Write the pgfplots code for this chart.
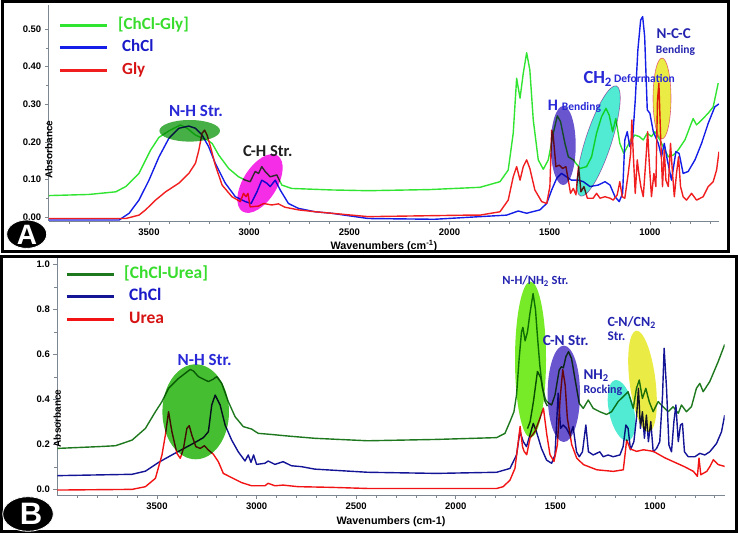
\documentclass[border=0pt]{standalone}
\usepackage{pgfplots}
\pgfplotsset{compat=1.18}
\usepackage{fontspec}
\setmainfont{Liberation Sans}
\newfontfamily\calib{Carlito}
\definecolor{axgray}{RGB}{125,135,145}
\definecolor{gA}{RGB}{50,228,50}
\definecolor{bA}{RGB}{20,30,230}
\definecolor{rA}{RGB}{240,30,30}
\definecolor{gB}{RGB}{30,120,30}
\definecolor{bB}{RGB}{20,20,150}
\definecolor{rB}{RGB}{242,20,20}
\definecolor{legG}{RGB}{55,220,45}
\definecolor{legB}{RGB}{25,25,200}
\definecolor{legR}{RGB}{215,20,20}
\definecolor{annA}{RGB}{40,40,215}
\definecolor{annB}{RGB}{35,35,175}
\definecolor{elGreenA}{RGB}{70,175,70}
\definecolor{elMag}{RGB}{245,45,230}
\definecolor{elPurp}{RGB}{105,85,205}
\definecolor{elCyan}{RGB}{80,235,210}
\definecolor{elYel}{RGB}{235,235,70}
\definecolor{elPink}{RGB}{235,110,190}
\definecolor{elGreenB}{RGB}{70,190,50}
\definecolor{elLime}{RGB}{120,235,40}
\pgfplotsset{
 ftir/.style={
  scale only axis,
  x dir=reverse,
  axis x line*=bottom, axis y line*=left,
  axis line style={draw=axgray, line width=0.8pt, -},
  tick style={draw=axgray, line width=0.6pt},
  major tick length=4pt, minor tick length=3pt,
  tick align=outside,
  xtick={1000,1500,2000,2500,3000,3500},
  minor xtick={700,800,...,3900},
  tick label style={font=\bfseries\fontsize{9.5}{10}\selectfont},
  /pgf/number format/assume math mode=true,
  xticklabel style={/pgf/number format/.cd, set thousands separator={}},
  label style={font=\bfseries\fontsize{10.8}{11}\selectfont},
  legend image code/.code={\draw[line width=3pt] (0pt,0pt) -- (47pt,0pt);},
  legend cell align=left,
  every axis plot/.append style={line width=1.4pt, line join=round},
 }
}
\begin{document}
\begin{tikzpicture}[x=1pt,y=1pt]
\path[use as bounding box] (0,0) rectangle (738,533);
% ---------------- Panel A ----------------
\begin{axis}[ftir,
  at={(48.8pt,312pt)}, anchor=south west,
  width=670.2pt, height=216pt,
  xmin=655, xmax=4000, ymin=-0.0106, ymax=0.564,
  ytick={0,0.1,0.2,0.3,0.4,0.5}, minor y tick num=1,
  yticklabel style={/pgf/number format/.cd, fixed, fixed zerofill, precision=2},
  xlabel={Wavenumbers (cm\textsuperscript{-1})},
  xlabel style={at={(axis description cs:0.5,0)}, anchor=center, yshift=-25pt},
  ylabel={Absorbance},
  ylabel style={at={(axis description cs:0,0.51)}, anchor=center, xshift=-38.8pt, font=\bfseries\fontsize{10}{11}\selectfont},
  legend style={at={(0,1)}, anchor=north west, draw=none, fill=none,
    xshift=9.2pt, yshift=-12pt, inner sep=0pt, row sep=6.8pt,
    font=\calib\bfseries\fontsize{17}{17}\selectfont,
    nodes={inner sep=0pt, text height=12pt, text depth=4pt},
    /tikz/every odd column/.append style={column sep=10pt}},
]
\addplot[gA] table {
4000 0.057
3800 0.060
3666 0.067
3616 0.081
3550 0.116
3492 0.178
3450 0.212
3401 0.229
3343 0.245
3309 0.236
3268 0.218
3235 0.210
3210 0.205
3185 0.196
3152 0.165
3102 0.129
3053 0.107
3019 0.098
2995 0.094
2970 0.121
2953 0.116
2937 0.134
2920 0.121
2895 0.107
2862 0.112
2837 0.085
2788 0.076
2589 0.072
2406 0.070
2100 0.073
1848 0.079
1748 0.094
1707 0.125
1682 0.223
1665 0.369
1648 0.316
1632 0.382
1615 0.437
1599 0.391
1582 0.258
1557 0.152
1532 0.127
1507 0.152
1482 0.223
1462 0.269
1446 0.254
1424 0.196
1407 0.160
1382 0.152
1349 0.129
1316 0.134
1291 0.160
1266 0.223
1241 0.267
1219 0.289
1203 0.271
1186 0.227
1170 0.262
1150 0.196
1130 0.169
1113 0.187
1096 0.205
1075 0.218
1053 0.214
1033 0.205
1013 0.223
992 0.214
975 0.227
950 0.205
925 0.178
908 0.160
883 0.165
859 0.178
825 0.205
800 0.240
784 0.262
767 0.245
742 0.258
709 0.276
684 0.293
659 0.356
};
\addlegendentry{\textcolor{legG}{[ChCl-Gly]}}
\addplot[bA] table {
4000 -0.008
3649 -0.008
3599 0.010
3550 0.045
3500 0.098
3450 0.160
3401 0.209
3351 0.236
3301 0.242
3268 0.236
3235 0.218
3202 0.187
3169 0.143
3119 0.090
3069 0.054
3019 0.041
2990 0.036
2961 0.067
2937 0.098
2912 0.090
2895 0.081
2870 0.098
2845 0.072
2804 0.036
2754 0.023
2671 0.014
2589 0.010
2406 -0.004
2075 -0.006
1848 0.001
1715 0.005
1657 0.016
1615 0.010
1549 0.019
1515 0.036
1490 0.072
1465 0.103
1441 0.116
1416 0.107
1391 0.098
1357 0.098
1332 0.094
1299 0.081
1258 0.085
1224 0.094
1199 0.085
1174 0.054
1153 0.041
1136 0.063
1125 0.205
1113 0.227
1100 0.187
1086 0.209
1073 0.311
1060 0.444
1046 0.524
1036 0.533
1026 0.480
1013 0.285
1000 0.276
983 0.227
958 0.196
942 0.160
928 0.196
913 0.152
892 0.098
870 0.174
854 0.169
834 0.116
809 0.121
775 0.152
742 0.196
709 0.249
676 0.293
655 0.301
};
\addlegendentry{\hspace{4pt}\textcolor{legB}{ChCl}}
\addplot[rA] table {
4000 -0.004
3616 -0.004
3550 0.005
3517 0.019
3467 0.045
3417 0.067
3351 0.090
3301 0.116
3268 0.143
3251 0.178
3235 0.223
3222 0.231
3210 0.218
3193 0.187
3169 0.138
3135 0.085
3086 0.054
3044 0.041
3028 0.063
3016 0.054
3006 0.063
2995 0.027
2953 0.029
2928 0.036
2887 0.032
2854 0.035
2821 0.026
2754 0.019
2671 0.014
2589 0.010
2406 0.001
1910 0.005
1848 0.005
1748 0.014
1707 0.045
1682 0.107
1665 0.134
1648 0.098
1632 0.134
1615 0.152
1599 0.129
1574 0.072
1540 0.041
1515 0.036
1499 0.081
1490 0.231
1482 0.214
1469 0.134
1452 0.138
1436 0.129
1419 0.134
1407 0.098
1396 0.063
1382 0.076
1369 0.059
1356 0.134
1344 0.067
1329 0.081
1312 0.050
1283 0.050
1266 0.063
1249 0.050
1224 0.054
1199 0.050
1183 0.045
1163 0.059
1150 0.094
1138 0.054
1125 0.050
1108 0.116
1096 0.169
1090 0.258
1083 0.169
1073 0.063
1063 0.152
1055 0.116
1045 0.081
1033 0.054
1020 0.152
1011 0.227
1003 0.143
992 0.054
980 0.116
970 0.081
962 0.311
955 0.356
947 0.223
937 0.081
928 0.178
920 0.098
908 0.081
897 0.196
887 0.116
878 0.054
867 0.116
857 0.160
847 0.081
834 0.054
817 0.045
792 0.063
767 0.045
734 0.054
709 0.081
684 0.094
667 0.125
655 0.174
};
\addlegendentry{\hspace{4pt}\textcolor{legR}{Gly}}
\end{axis}
% ---------------- Panel B ----------------
\begin{axis}[ftir,
  at={(57.4pt,38pt)}, anchor=south west,
  width=667.3pt, height=237.4pt,
  xmin=650, xmax=4000, ymin=-0.025, ymax=1.03,
  ytick={0,0.2,0.4,0.6,0.8,1.0}, minor y tick num=1,
  yticklabel style={/pgf/number format/.cd, fixed, fixed zerofill, precision=1},
  xlabel={Wavenumbers (cm-1)},
  xlabel style={at={(axis description cs:0.5,0)}, anchor=center, yshift=-26.7pt},
  ylabel={Absorbance},
  ylabel style={at={(axis description cs:0,0.497)}, anchor=center, xshift=-41.4pt, font=\bfseries\fontsize{10}{11}\selectfont},
  legend style={at={(0,1)}, anchor=north west, draw=none, fill=none,
    xshift=7.6pt, yshift=-8.4pt, inner sep=0pt, row sep=6.5pt,
    font=\calib\bfseries\fontsize{17.5}{17.5}\selectfont,
    nodes={inner sep=0pt, text height=12pt, text depth=4pt},
    /tikz/every odd column/.append style={column sep=9pt}},
]
\addplot[gB] table {
4000 0.182
3792 0.190
3708 0.194
3625 0.219
3558 0.271
3508 0.345
3475 0.390
3442 0.449
3392 0.493
3358 0.516
3333 0.533
3317 0.526
3292 0.501
3258 0.486
3242 0.479
3217 0.490
3200 0.501
3175 0.471
3142 0.390
3108 0.323
3067 0.279
3025 0.268
2992 0.249
2925 0.244
2842 0.237
2708 0.227
2442 0.216
2096 0.222
1795 0.230
1753 0.249
1728 0.301
1708 0.345
1695 0.420
1682 0.580
1670 0.700
1663 0.720
1652 0.660
1640 0.700
1628 0.780
1612 0.870
1600 0.800
1590 0.680
1578 0.550
1565 0.450
1550 0.400
1537 0.385
1519 0.375
1502 0.419
1481 0.530
1470 0.545
1460 0.540
1447 0.590
1434 0.612
1419 0.582
1402 0.493
1380 0.382
1360 0.360
1335 0.397
1310 0.360
1277 0.345
1243 0.333
1218 0.345
1185 0.390
1160 0.412
1135 0.434
1109 0.360
1093 0.449
1079 0.486
1063 0.404
1046 0.449
1029 0.390
1009 0.345
984 0.390
959 0.367
934 0.345
909 0.367
883 0.338
867 0.375
842 0.345
817 0.367
792 0.449
775 0.471
758 0.434
725 0.479
683 0.567
650 0.644
};
\addlegendentry{\textcolor{legG}{[ChCl-Urea]}}
\addplot[bB] table {
4000 0.061
3625 0.067
3558 0.081
3492 0.120
3425 0.153
3358 0.185
3308 0.209
3267 0.230
3242 0.256
3225 0.375
3208 0.419
3183 0.375
3158 0.286
3125 0.219
3092 0.167
3058 0.126
3042 0.153
3028 0.120
3015 0.153
3000 0.111
2958 0.116
2942 0.126
2908 0.111
2867 0.123
2825 0.105
2775 0.101
2708 0.090
2442 0.076
2096 0.071
1795 0.076
1728 0.093
1695 0.153
1678 0.256
1661 0.212
1645 0.190
1628 0.241
1611 0.293
1595 0.256
1570 0.182
1544 0.130
1519 0.116
1502 0.153
1486 0.427
1474 0.271
1461 0.286
1444 0.271
1427 0.241
1411 0.279
1394 0.167
1380 0.145
1364 0.167
1347 0.286
1334 0.167
1310 0.153
1277 0.167
1260 0.145
1235 0.153
1210 0.145
1176 0.153
1160 0.190
1146 0.286
1135 0.271
1123 0.176
1106 0.212
1093 0.316
1083 0.449
1073 0.271
1063 0.345
1053 0.227
1043 0.330
1033 0.212
1021 0.301
1009 0.167
992 0.182
976 0.212
962 0.419
954 0.627
942 0.449
930 0.197
917 0.167
905 0.301
895 0.375
883 0.212
872 0.286
862 0.293
852 0.167
833 0.145
800 0.145
775 0.160
750 0.153
725 0.167
691 0.204
666 0.256
650 0.330
};
\addlegendentry{\hspace{5pt}\textcolor{legB}{ChCl}}
\addplot[rB] table {
4000 -0.003
3625 0.000
3558 0.012
3508 0.049
3475 0.153
3458 0.241
3442 0.345
3425 0.256
3400 0.160
3383 0.138
3367 0.182
3350 0.271
3338 0.283
3325 0.241
3305 0.190
3283 0.182
3262 0.194
3242 0.175
3217 0.156
3192 0.123
3167 0.071
3125 0.052
3075 0.030
3025 0.016
2958 0.016
2942 0.027
2908 0.016
2867 0.019
2792 0.012
2625 0.009
2442 0.004
1795 0.004
1762 0.012
1728 0.041
1703 0.093
1688 0.200
1677 0.280
1665 0.190
1657 0.169
1644 0.154
1627 0.228
1602 0.258
1577 0.317
1560 0.361
1543 0.243
1527 0.154
1507 0.124
1490 0.199
1476 0.406
1463 0.532
1451 0.465
1440 0.317
1418 0.199
1393 0.139
1359 0.110
1292 0.087
1209 0.080
1159 0.087
1142 0.220
1125 0.180
1092 0.169
1058 0.176
1008 0.169
950 0.140
900 0.120
850 0.100
807 0.080
787 0.058
779 0.139
770 0.065
740 0.080
724 0.102
707 0.132
682 0.110
650 0.102
};
\addlegendentry{\hspace{5pt}\textcolor{legR}{Urea}}
\addplot[gB!70!black, forget plot] table {
1640 0.270
1627 0.300
1610 0.391
1590 0.524
1573 0.495
1552 0.391
1540 0.370
};
\end{axis}
% ---------------- highlight ellipses ----------------
\begin{scope}[blend mode=multiply]
\fill[elGreenA] (189.7,402.2) ellipse [x radius=30.3, y radius=10.8];
\fill[elMag, rotate around={58:(260,349.5)}] (260,349.5) ellipse [x radius=33, y radius=17];
\fill[elPurp] (563.2,387.5) ellipse [x radius=12.5, y radius=39.5];
\filldraw[fill=elCyan, draw=elPink, line width=0.6pt, rotate around={72:(598.5,392)}] (598.5,392) ellipse [x radius=58, y radius=13];
\filldraw[fill=elYel, draw=elPink, line width=0.6pt] (662,434.5) ellipse [x radius=9, y radius=40.5];
\fill[elGreenB] (195.7,121.2) ellipse [x radius=33.3, y radius=47.5];
\fill[elLime] (530.5,173.5) ellipse [x radius=15.5, y radius=78];
\fill[elPurp] (563.8,139.2) ellipse [x radius=16.2, y radius=48.2];
\fill[elCyan, rotate around={12:(621.5,122.5)}] (621.5,122.5) ellipse [x radius=12.5, y radius=31];
\fill[elYel, rotate around={7:(642.5,151.7)}] (642.5,151.7) ellipse [x radius=13, y radius=51];
\end{scope}
% ---------------- annotations ----------------
\begin{scope}[every node/.style={inner sep=0pt, font=\calib\bfseries}]
\node[anchor=base, text=annA, font=\calib\bfseries\fontsize{17}{17}\selectfont] at (196,416.3) {N-H Str.};
\node[anchor=base, text={black!88}, font=\calib\bfseries\fontsize{16.5}{17}\selectfont] at (267.8,376.3) {C-H Str.};
\node[anchor=base west, text=annA, font=\calib\bfseries\fontsize{16}{16}\selectfont] at (547.7,422) {H};
\node[anchor=base west, text=annA, font=\calib\bfseries\fontsize{11.5}{12}\selectfont] at (561.7,422) {Bending};
\node[anchor=base west, text=annA, font=\calib\bfseries\fontsize{18.5}{18}\selectfont] at (583.3,449) {CH\textsubscript{2}};
\node[anchor=base west, text=annA, font=\calib\bfseries\fontsize{11.5}{12}\selectfont] at (614,450.3) {Deformation};
\node[anchor=base, text=annB, font=\calib\bfseries\fontsize{15}{15}\selectfont] at (673.7,494.7) {N-C-C};
\node[anchor=base, text=annB, font=\calib\bfseries\fontsize{11.5}{12}\selectfont] at (675.5,479) {Bending};
\node[anchor=base, text=annA, font=\calib\bfseries\fontsize{17}{17}\selectfont] at (204.7,168) {N-H Str.};
\node[anchor=base, text=annB, font=\calib\bfseries\fontsize{12.5}{13}\selectfont] at (535.5,248) {N-H/NH\textsubscript{2} Str.};
\node[anchor=base, text=annB, font=\calib\bfseries\fontsize{15.2}{15}\selectfont] at (565.8,188) {C-N Str.};
\node[anchor=base west, text=annB, font=\calib\bfseries\fontsize{15}{15}\selectfont] at (583.3,154) {NH\textsubscript{2}};
\node[anchor=base west, text=annB, font=\calib\bfseries\fontsize{12}{12}\selectfont] at (583.3,139.7) {Rocking};
\node[anchor=base west, text=annB, font=\calib\bfseries\fontsize{14}{14}\selectfont] at (607.3,206.3) {C-N/CN\textsubscript{2}};
\node[anchor=base west, text=annB, font=\calib\bfseries\fontsize{13.3}{14}\selectfont] at (607.3,193) {Str.};
\end{scope}
% ---------------- frames and badges ----------------
\draw[line width=3pt] (2,281) rectangle (728,531);
\draw[line width=3pt] (1.5,2) rectangle (736,276);
\filldraw[fill=black, draw=white, line width=0.8pt] (26.7,298.8) ellipse [x radius=20, y radius=14.2];
\node[text=white, font=\bfseries\fontsize{28}{28}\selectfont, inner sep=0pt] at (27,298.3) {A};
\filldraw[fill=black, draw=white, line width=0.8pt] (28,19) ellipse [x radius=25.3, y radius=17.3];
\node[text=white, font=\bfseries\fontsize{31}{31}\selectfont, inner sep=0pt] at (31,19.5) {B};
\end{tikzpicture}
\end{document}
